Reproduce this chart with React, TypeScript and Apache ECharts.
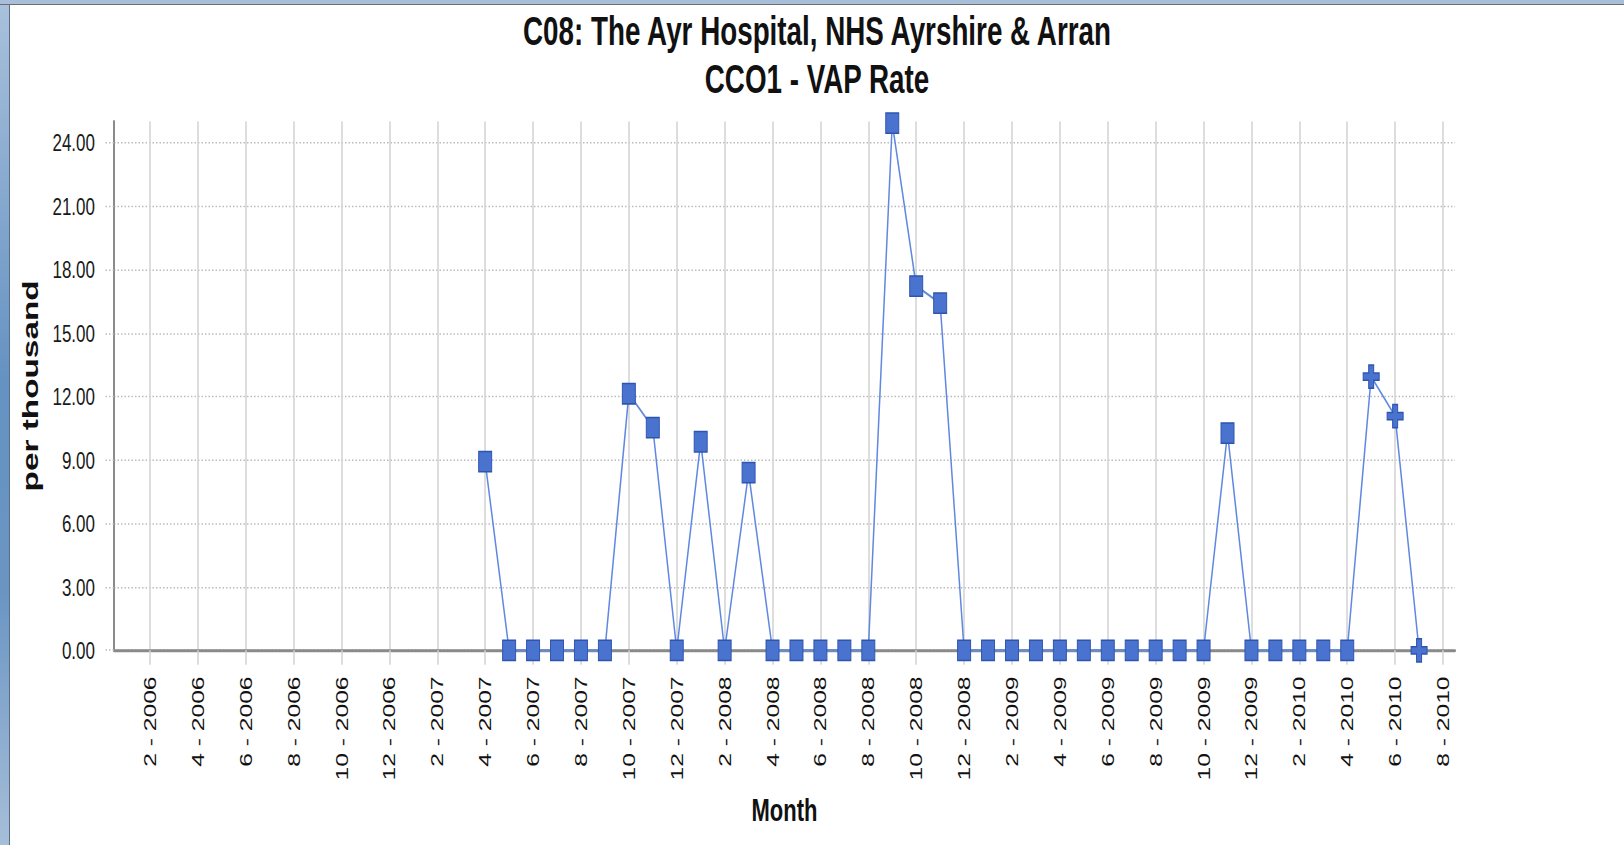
import React, { useEffect, useRef } from "react";
import * as echarts from "echarts";

const titleLines = ["C08: The Ayr Hospital, NHS Ayrshire & Arran", "CCO1 - VAP Rate"];
const xAxisName = "Month";
const yAxisName = "per thousand";

const months = [
  "1 - 2006", "2 - 2006", "3 - 2006", "4 - 2006", "5 - 2006", "6 - 2006",
  "7 - 2006", "8 - 2006", "9 - 2006", "10 - 2006", "11 - 2006", "12 - 2006",
  "1 - 2007", "2 - 2007", "3 - 2007", "4 - 2007", "5 - 2007", "6 - 2007",
  "7 - 2007", "8 - 2007", "9 - 2007", "10 - 2007", "11 - 2007", "12 - 2007",
  "1 - 2008", "2 - 2008", "3 - 2008", "4 - 2008", "5 - 2008", "6 - 2008",
  "7 - 2008", "8 - 2008", "9 - 2008", "10 - 2008", "11 - 2008", "12 - 2008",
  "1 - 2009", "2 - 2009", "3 - 2009", "4 - 2009", "5 - 2009", "6 - 2009",
  "7 - 2009", "8 - 2009", "9 - 2009", "10 - 2009", "11 - 2009", "12 - 2009",
  "1 - 2010", "2 - 2010", "3 - 2010", "4 - 2010", "5 - 2010", "6 - 2010",
  "7 - 2010", "8 - 2010",
];

// VAP rate per thousand ventilator days (null = no data)
const vapRate: (number | null)[] = [
  null, null, null, null, null, null, null, null, null, null, null, null,
  null, null, null, 8.92, 0, 0, 0, 0, 0, 12.13, 10.53, 0,
  9.86, 0, 8.40, 0, 0, 0, 0, 0, 24.92, 17.22, 16.41, 0,
  0, 0, 0, 0, 0, 0, 0, 0, 0, 0, 10.27, 0,
  0, 0, 0, 0, 12.94, 11.07, 0, null,
];

// months drawn with the "+" marker
const provisionalMonths = ["5 - 2010", "6 - 2010", "7 - 2010"];

const yTicks = [0, 3, 6, 9, 12, 15, 18, 21, 24];

const SCALE_Y = 845 / 583;
const FONT = "'Liberation Sans', Arial, Helvetica, sans-serif";
const PLUS =
  "path://M5.5,0 H10.5 V5.5 H16 V10.5 H10.5 V16 H5.5 V10.5 H0 V5.5 H5.5 Z";

const everyOther = (idx: number) => idx % 2 === 1;

export default function App() {
  const ref = useRef<HTMLDivElement>(null);

  useEffect(() => {
    if (!ref.current) return;
    const chart = echarts.init(ref.current, null, { renderer: "svg" });

    const seriesData = vapRate.map((v, i) =>
      provisionalMonths.includes(months[i])
        ? { value: v, symbol: PLUS, symbolSize: [16, 16] }
        : { value: v }
    );

    chart.setOption({
      animation: false,
      backgroundColor: "transparent",
      title: {
        text: titleLines.join("\n"),
        left: "center",
        top: 0,
        padding: [5, 5, 5, 5],
        textStyle: {
          fontFamily: FONT,
          fontWeight: "bold",
          fontSize: 27.8,
          lineHeight: 33,
          color: "#111",
        },
      },
      grid: {
        left: 104,
        right: 169,
        top: 83.8,
        bottom: 134.3,
        containLabel: false,
      },
      xAxis: {
        type: "category",
        data: months,
        boundaryGap: true,
        name: xAxisName,
        nameLocation: "middle",
        nameGap: 99,
        nameTextStyle: {
          fontFamily: FONT,
          fontWeight: "bold",
          fontSize: 22,
          color: "#111",
        },
        axisLine: { show: true, lineStyle: { color: "#8a8a8a", width: 2 } },
        axisTick: {
          show: true,
          interval: everyOther,
          alignWithLabel: true,
          length: 10,
          lineStyle: { color: "#d2d2d2", width: 1.5 },
        },
        axisLabel: {
          interval: everyOther,
          rotate: 90,
          margin: 18,
          fontFamily: FONT,
          fontSize: 17,
          color: "#111",
        },
        splitLine: {
          show: true,
          interval: everyOther,
          alignWithLabel: true,
          lineStyle: { color: "#d2d2d2", width: 1.5 },
        },
      },
      yAxis: {
        type: "value",
        min: 0,
        max: 25,
        interval: 3,
        name: yAxisName,
        nameLocation: "middle",
        nameRotate: 90,
        nameGap: 65,
        nameTextStyle: {
          fontFamily: FONT,
          fontWeight: "bold",
          fontSize: 23,
          color: "#111",
        },
        axisLine: { show: true, lineStyle: { color: "#8a8a8a", width: 2 } },
        axisTick: {
          show: true,
          length: 10,
          customValues: yTicks,
          lineStyle: { color: "#bcbcbc", width: 1, type: [1.5, 2] },
        },
        axisLabel: {
          customValues: yTicks,
          margin: 19,
          fontFamily: FONT,
          fontSize: 17,
          color: "#1a1a1a",
          formatter: (v: number) => v.toFixed(2),
        },
        splitLine: {
          show: true,
          lineStyle: { color: "#bcbcbc", width: 1, type: [1.5, 2] },
        },
      },
      series: [
        {
          type: "line",
          data: seriesData,
          symbol: "rect",
          symbolSize: [13, 14],
          showSymbol: true,
          connectNulls: false,
          lineStyle: { color: "#5f88e0", width: 1.5 },
          itemStyle: {
            color: "#4a73d0",
            borderColor: "#2e55ad",
            borderWidth: 1,
          },
        },
      ],
    });

    return () => chart.dispose();
  }, []);

  return (
    <div
      style={{
        position: "fixed",
        left: 0,
        top: 0,
        width: 1624,
        height: 845,
        background: "#ffffff",
        overflow: "hidden",
      }}
    >
      <div
        ref={ref}
        style={{
          position: "absolute",
          left: 10,
          top: 0,
          width: 1614,
          height: 583,
          transform: `scaleY(${SCALE_Y})`,
          transformOrigin: "0 0",
        }}
      />
      <div
        style={{
          position: "absolute",
          left: 0,
          top: 0,
          width: 9,
          height: 845,
          background: "linear-gradient(to bottom, #a9c1dc, #6592c2 45%, #6a95c3 70%, #a6bed9)",
          borderRight: "1px solid #5b6d84",
        }}
      />
      <div
        style={{
          position: "absolute",
          left: 0,
          top: 0,
          width: 1624,
          height: 4,
          background: "#a9bed8",
          borderBottom: "1px solid #6e6e6e",
        }}
      />
    </div>
  );
}
